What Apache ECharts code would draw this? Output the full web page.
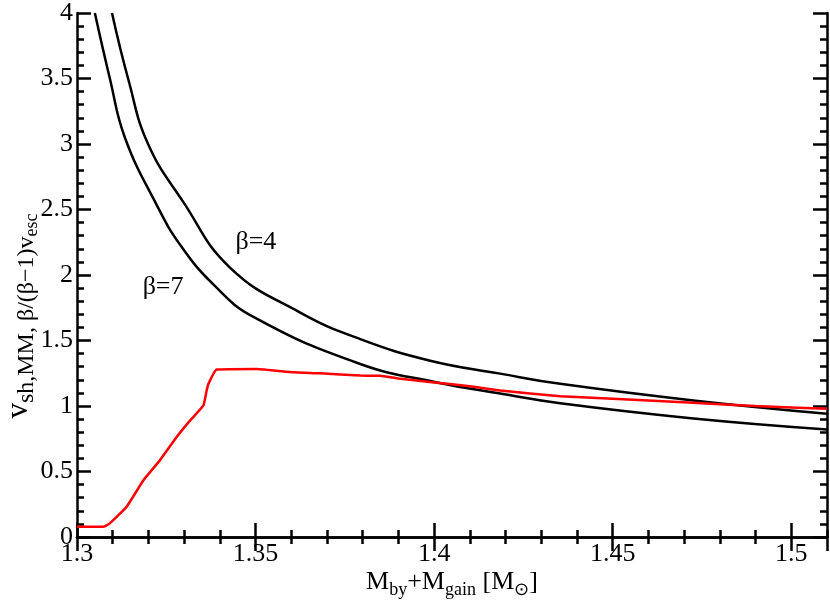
<!DOCTYPE html>
<html>
<head>
<meta charset="utf-8">
<script src="https://cdn.jsdelivr.net/npm/echarts@6/dist/echarts.min.js"></script>
<style>
  html, body { margin: 0; padding: 0; background: #fff; }
  #main { width: 830px; height: 605px; }
</style>
</head>
<body>
<div id="main"></div>
<script>
// beta = 4 curve
const beta4X = [1.3098, 1.3143, 1.3199, 1.3297, 1.3429, 1.3625, 1.3793, 1.3989, 1.4185, 1.4353, 1.4726, 1.51];
const beta4Y = [4.0, 3.5, 3.0, 2.56, 2.055, 1.713, 1.511, 1.346, 1.247, 1.169, 1.042, 0.94];
// beta = 7 curve
const beta7X = [1.305, 1.3092, 1.3134, 1.3224, 1.3289, 1.3381, 1.3494, 1.3793, 1.4008, 1.4185, 1.4353, 1.4726, 1.51];
const beta7Y = [4.0, 3.5, 3.05, 2.53, 2.23, 1.93, 1.68, 1.321, 1.18, 1.095, 1.021, 0.905, 0.821];
// v_sh,MM (red)
const shockX = [1.3, 1.3073, 1.3092, 1.3139, 1.3186, 1.3232, 1.3279, 1.3317, 1.3354, 1.3363, 1.3368, 1.3391, 1.3503, 1.3606, 1.3681, 1.3793, 1.3849, 1.39, 1.4, 1.41, 1.4185, 1.4353, 1.45, 1.4726, 1.49, 1.51];
const shockY = [0.078, 0.078, 0.104, 0.231, 0.433, 0.585, 0.763, 0.89, 1.004, 1.118, 1.169, 1.278, 1.283, 1.257, 1.25, 1.232, 1.23, 1.21, 1.18, 1.15, 1.118, 1.075, 1.055, 1.025, 1.0, 0.979];
// text anchors (data coords)
const beta4Label = [1.3501, 2.25];
const beta7Label = [1.3241, 1.909];

const FONT = 'Liberation Serif';
const zip = (xs, ys) => xs.map((x, i) => [x, ys[i]]);

let chart = echarts.init(document.getElementById('main'));

function xAx(pos, interval, len, labels) {
  return {
    type: 'value', position: pos, min: 1.3, max: 1.51, interval: interval,
    axisLine: { show: len > 10, lineStyle: { color: '#000', width: 2.5 } },
    axisTick: { inside: true, length: len, lineStyle: { color: '#000', width: 2.5 } },
    axisLabel: { show: labels, showMaxLabel: false, color: '#000', fontFamily: FONT, fontSize: 26, margin: 4 },
    splitLine: { show: false }
  };
}
function yAx(pos, interval, len, labels) {
  return {
    type: 'value', position: pos, min: 0, max: 4, interval: interval,
    axisLine: { show: len > 10, lineStyle: { color: '#000', width: 2.5 } },
    axisTick: { inside: true, length: len, lineStyle: { color: '#000', width: 2.5 } },
    axisLabel: { show: labels, color: '#000', fontFamily: FONT, fontSize: 26, margin: 4 },
    splitLine: { show: false }
  };
}

let option = {
  animation: false,
  backgroundColor: '#fff',
  grid: { left: 77, right: 3, top: 11, bottom: 68, containLabel: false },
  xAxis: [
    xAx('bottom', 0.05, 14, true),
    xAx('bottom', 0.01, 7, false),
    xAx('top', 0.05, 14, false),
    xAx('top', 0.01, 7, false)
  ],
  yAxis: [
    yAx('left', 0.5, 14, true),
    yAx('left', 0.1, 7, false),
    yAx('right', 0.5, 14, false),
    yAx('right', 0.1, 7, false)
  ],
  series: [
    {
      name: 'beta4', type: 'line', data: zip(beta4X, beta4Y),
      smooth: 0.45, showSymbol: false,
      lineStyle: { color: '#000', width: 2.5 }
    },
    {
      name: 'beta7', type: 'line', data: zip(beta7X, beta7Y),
      smooth: 0.45, showSymbol: false,
      lineStyle: { color: '#000', width: 2.5 }
    },
    {
      name: 'vsh', type: 'line', data: zip(shockX, shockY),
      smooth: 0.12, showSymbol: false,
      lineStyle: { color: '#ff0000', width: 2.5 }
    }
  ]
};
chart.setOption(option);

const p4 = chart.convertToPixel({ xAxisIndex: 0, yAxisIndex: 0 }, beta4Label);
const p7 = chart.convertToPixel({ xAxisIndex: 0, yAxisIndex: 0 }, beta7Label);

chart.setOption({
  graphic: [
    {
      type: 'text', x: p4[0], y: p4[1],
      style: { text: 'β=4', fontFamily: FONT, fontSize: 26, fill: '#000', align: 'center', verticalAlign: 'middle' }
    },
    {
      type: 'text', x: p7[0], y: p7[1],
      style: { text: 'β=7', fontFamily: FONT, fontSize: 26, fill: '#000', align: 'center', verticalAlign: 'middle' }
    },
    {
      // x axis title
      type: 'text', x: 452, y: 582,
      style: {
        text: '{m|M}{s|by}{m|+M}{s|gain}{m| [M}{s|⊙}{m|]}',
        align: 'center', verticalAlign: 'middle',
        rich: {
          m: { fontFamily: FONT, fontSize: 26, fill: '#000' },
          s: { fontFamily: FONT, fontSize: 18, fill: '#000', padding: [16, 0, 0, 0] }
        }
      }
    },
    {
      // y axis title
      type: 'text', x: 19, y: 316, rotation: Math.PI / 2,
      style: {
        text: '{m|v}{s|sh,MM, β/(β−1)v}{ss|esc}',
        align: 'center', verticalAlign: 'middle',
        rich: {
          m: { fontFamily: FONT, fontSize: 31, fill: '#000' },
          s: { fontFamily: FONT, fontSize: 24, fill: '#000', padding: [16, 0, 0, 0] },
          ss: { fontFamily: FONT, fontSize: 18, fill: '#000', padding: [26, 0, 0, 0] }
        }
      }
    }
  ]
});
</script>
</body>
</html>
